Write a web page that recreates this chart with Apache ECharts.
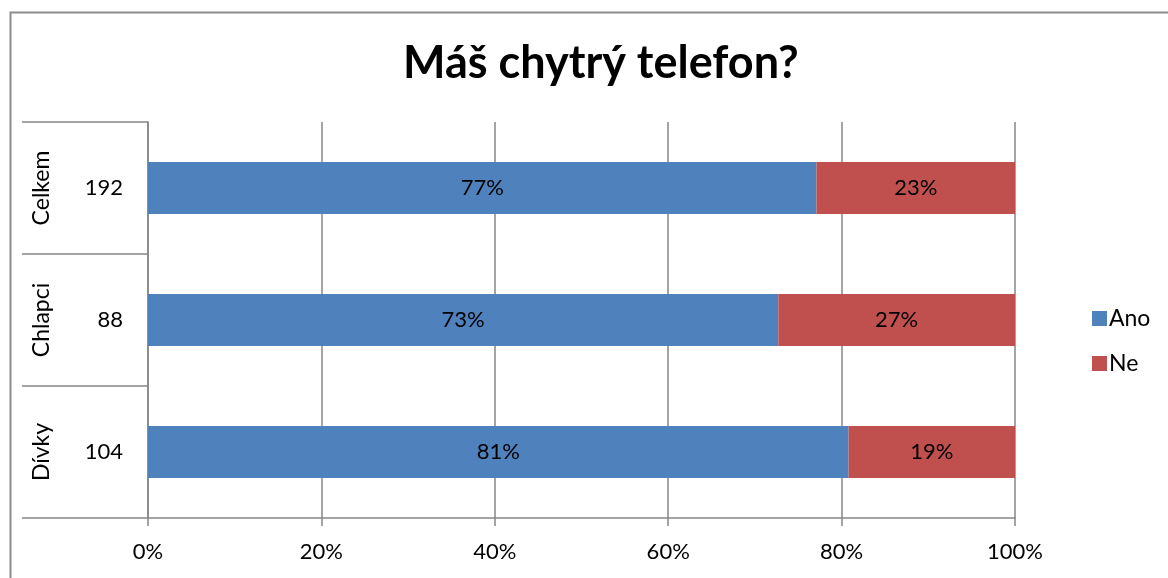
<!DOCTYPE html>
<html>
<head>
<meta charset="utf-8">
<script src="https://cdn.jsdelivr.net/npm/echarts@6/dist/echarts.min.js"></script>
<style>
html,body{margin:0;padding:0;background:#fff;}
#c{width:1168px;height:578px;}
</style>
</head>
<body>
<div id="c"></div>
<script>
// Data (bottom to top, as the category axis draws them)
const groups = ['Dívky', 'Chlapci', 'Celkem'];
const counts = ['104', '88', '192'];
const anoPct = [80.8, 72.7, 77.1];
const nePct = [19.2, 27.3, 22.9];
const seriesNames = ['Ano', 'Ne'];
const xTicks = [0, 20, 40, 60, 80, 100];

const FONT = 'Lato, "Open Sans", sans-serif';
const GRID = '#868686';
const FS = 22;

const chart = echarts.init(document.getElementById('c'), null, {renderer: 'canvas'});
const lbl = {
  show: true, position: 'inside', color: '#000', fontFamily: FONT, fontSize: FS,
  formatter: p => Math.round(p.value) + '%'
};
chart.setOption({
  animation: false,
  backgroundColor: '#fff',
  title: {
    text: 'Máš chytrý telefon?', left: 398, top: 36,
    textStyle: {fontFamily: FONT, fontWeight: 'bold', fontSize: 45, color: '#000'}
  },
  legend: {
    orient: 'vertical', left: 1087, top: 302, itemGap: 22,
    itemWidth: 15, itemHeight: 15, icon: 'rect',
    textStyle: {fontFamily: FONT, fontSize: 23, color: '#000', padding: [0, 0, 0, -3]},
    data: seriesNames
  },
  grid: {left: 148, right: 153, top: 122, bottom: 60, containLabel: false},
  xAxis: {
    type: 'value', min: 0, max: 100, interval: 20,
    axisLine: {show: true, lineStyle: {color: GRID, width: 1.5}},
    axisTick: {show: true, length: 8, lineStyle: {color: GRID, width: 1.5}},
    splitLine: {show: true, lineStyle: {color: GRID, width: 1.5}},
    axisLabel: {fontFamily: FONT, fontSize: FS, color: '#000', margin: 23,
      formatter: v => xTicks.includes(v) ? v + '%' : ''}
  },
  yAxis: [{
    type: 'category', data: counts, position: 'left',
    axisLine: {show: true, lineStyle: {color: GRID, width: 1.5}},
    axisTick: {show: false},
    axisLabel: {fontFamily: FONT, fontSize: FS, color: '#000', margin: 25, align: 'right'}
  }, {
    type: 'category', data: groups, position: 'left', offset: 0,
    axisLine: {show: false},
    axisTick: {show: true, inside: false, length: 126, lineStyle: {color: GRID, width: 1.5}},
    axisLabel: {fontFamily: FONT, fontSize: 23, color: '#000', rotate: 90, margin: 95}
  }],
  series: [{
    name: seriesNames[0], type: 'bar', stack: 'a', yAxisIndex: 0, data: anoPct,
    barWidth: 52, itemStyle: {color: '#4F81BD'}, label: lbl
  }, {
    name: seriesNames[1], type: 'bar', stack: 'a', yAxisIndex: 0, data: nePct,
    barWidth: 52, itemStyle: {color: '#C0504D'}, label: lbl
  }],
  graphic: [{
    type: 'rect', left: 8, top: 10, silent: true,
    shape: {width: 1200, height: 600},
    style: {fill: 'none', stroke: '#8c8c8c', lineWidth: 2}
  }]
});
</script>
</body>
</html>
